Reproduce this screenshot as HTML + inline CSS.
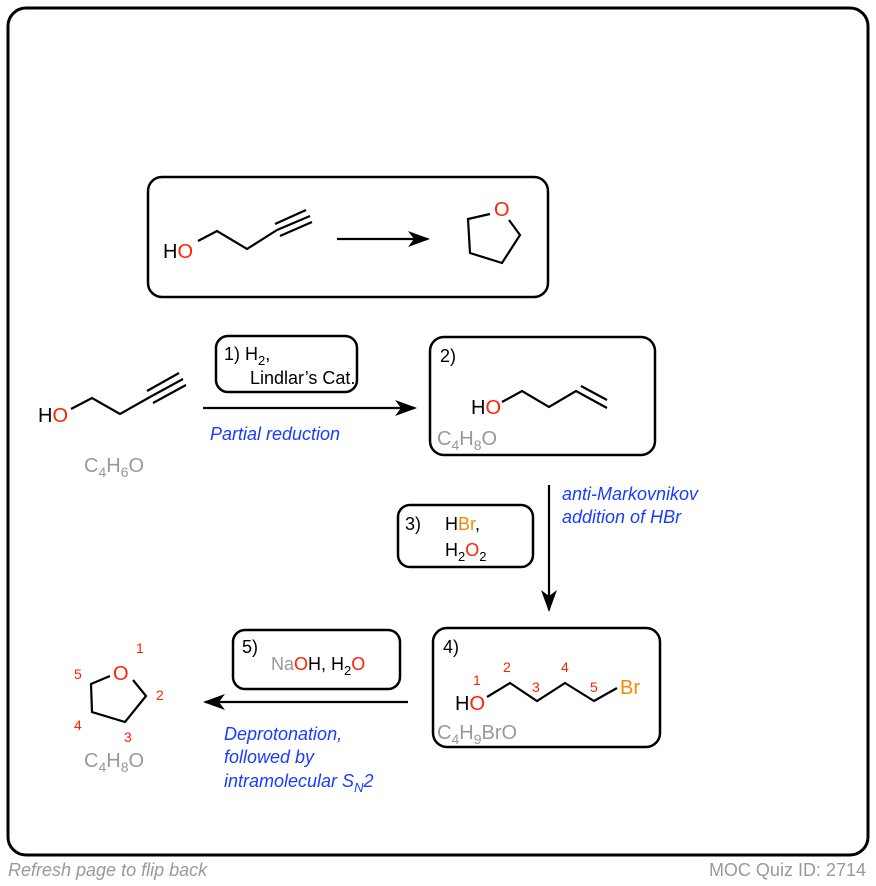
<!DOCTYPE html>
<html><head><meta charset="utf-8"><style>
html,body{margin:0;padding:0;background:#fff;}
svg{display:block;font-family:"Liberation Sans",Arial,sans-serif;}
</style></head><body>
<svg width="876" height="886" viewBox="0 0 876 886" xmlns="http://www.w3.org/2000/svg">
<defs>
<marker id="ah" markerWidth="10" markerHeight="10" refX="9" refY="5" orient="auto" markerUnits="userSpaceOnUse" viewBox="0 0 10 10">
<path d="M0,0 L10,5 L0,10 L3,5 Z" fill="#000"/></marker>
<marker id="ah2" markerWidth="22" markerHeight="16" refX="20" refY="8" orient="auto" markerUnits="userSpaceOnUse" viewBox="0 0 22 16">
<path d="M0,0 L22,8 L0,16 L6,8 Z" fill="#000"/></marker>
</defs>
<rect x="8" y="8" width="860" height="847" rx="18" fill="#fff" stroke="#000" stroke-width="3"/>
<!-- top box -->
<rect x="148" y="177" width="400" height="120" rx="14" fill="none" stroke="#000" stroke-width="2.5"/>
<text x="163" y="258" font-size="20">H<tspan fill="#ff2200">O</tspan></text>
<g stroke="#000" stroke-width="2.2" fill="none">
<polyline points="198,241 217,231 247,249 277,230"/>
<line x1="277" y1="230" x2="310" y2="216"/>
<line x1="275" y1="224" x2="306" y2="210"/>
<line x1="280" y1="236" x2="312" y2="222"/>
<line x1="337" y1="239" x2="428" y2="239" marker-end="url(#ah2)"/>
<polyline points="490,214 468,219 470,253 502,263 520,235 509,220"/>
</g>
<text x="494" y="216" font-size="20" fill="#ff2200">O</text>
<!-- row 2 -->
<text x="38" y="422" font-size="20">H<tspan fill="#ff2200">O</tspan></text>
<g stroke="#000" stroke-width="2.2" fill="none">
<polyline points="71,409 92,398 120,414 150,397"/>
<line x1="150" y1="397" x2="183" y2="379"/>
<line x1="147" y1="391" x2="179" y2="373"/>
<line x1="153" y1="403" x2="186" y2="385"/>
<line x1="203" y1="408" x2="415" y2="408" marker-end="url(#ah2)"/>
</g>
<text x="84" y="472" font-size="20" fill="#999">C<tspan font-size="14" dy="5">4</tspan><tspan dy="-5">H</tspan><tspan font-size="14" dy="5">6</tspan><tspan dy="-5">O</tspan></text>
<rect x="216" y="336" width="141" height="56" rx="12" fill="none" stroke="#000" stroke-width="2.5"/>
<text x="224" y="360" font-size="18">1) H<tspan font-size="13" dy="5">2</tspan><tspan dy="-5">,</tspan></text>
<text x="250" y="384" font-size="18">Lindlar’s Cat.</text>
<text x="210" y="440" font-size="18" font-style="italic" fill="#1a3cff">Partial reduction</text>
<rect x="430" y="337" width="225" height="118" rx="14" fill="none" stroke="#000" stroke-width="2.5"/>
<text x="440" y="362" font-size="18">2)</text>
<text x="471" y="414" font-size="20">H<tspan fill="#ff2200">O</tspan></text>
<g stroke="#000" stroke-width="2.2" fill="none">
<polyline points="502,402 522,391 549,407 576,391 607,408"/>
<line x1="581" y1="386" x2="607" y2="400"/>
</g>
<text x="437" y="445" font-size="20" fill="#999">C<tspan font-size="14" dy="5">4</tspan><tspan dy="-5">H</tspan><tspan font-size="14" dy="5">8</tspan><tspan dy="-5">O</tspan></text>
<!-- vertical arrow -->
<line x1="549" y1="485" x2="549" y2="610" stroke="#000" stroke-width="2.2" marker-end="url(#ah2)"/>
<text x="562" y="500" font-size="18" font-style="italic" fill="#1a3cff">anti-Markovnikov</text>
<text x="562" y="523" font-size="18" font-style="italic" fill="#1a3cff">addition of HBr</text>
<rect x="398" y="505" width="135" height="62" rx="12" fill="none" stroke="#000" stroke-width="2.5"/>
<text x="405" y="530" font-size="18">3)</text>
<text x="445" y="530" font-size="18">H<tspan fill="#f08c00">Br</tspan>,</text>
<text x="445" y="556" font-size="18">H<tspan font-size="13" dy="5">2</tspan><tspan dy="-5" fill="#ff2200">O</tspan><tspan font-size="13" dy="5">2</tspan></text>
<!-- box 4 -->
<rect x="433" y="628" width="227" height="119" rx="14" fill="none" stroke="#000" stroke-width="2.5"/>
<text x="443" y="653" font-size="18">4)</text>
<text x="455" y="710" font-size="20">H<tspan fill="#ff2200">O</tspan></text>
<g stroke="#000" stroke-width="2.2" fill="none">
<polyline points="487,697 510,683 537,701 565,683 594,701 617,688"/>
</g>
<text x="620" y="694" font-size="20" fill="#f08c00">Br</text>
<g font-size="14" fill="#ff2200">
<text x="473" y="685">1</text><text x="503" y="672">2</text><text x="532" y="692">3</text>
<text x="561" y="672">4</text><text x="590" y="692">5</text></g>
<text x="437" y="739" font-size="20" fill="#999">C<tspan font-size="14" dy="5">4</tspan><tspan dy="-5">H</tspan><tspan font-size="14" dy="5">9</tspan><tspan dy="-5">BrO</tspan></text>
<!-- box 5 -->
<rect x="233" y="630" width="167" height="59" rx="12" fill="none" stroke="#000" stroke-width="2.5"/>
<text x="242" y="653" font-size="18">5)</text>
<text x="271" y="670" font-size="18"><tspan fill="#999">Na</tspan><tspan fill="#ff2200">O</tspan>H, H<tspan font-size="13" dy="5">2</tspan><tspan dy="-5" fill="#ff2200">O</tspan></text>
<line x1="408" y1="702" x2="205" y2="702" stroke="#000" stroke-width="2.2" marker-end="url(#ah2)"/>
<text x="224" y="740" font-size="18" font-style="italic" fill="#1a3cff">Deprotonation,</text>
<text x="224" y="763" font-size="18" font-style="italic" fill="#1a3cff">followed by</text>
<text x="224" y="787" font-size="18" font-style="italic" fill="#1a3cff">intramolecular S<tspan font-size="13" dy="5">N</tspan><tspan dy="-5">2</tspan></text>
<!-- product THF -->
<g stroke="#000" stroke-width="2.2" fill="none">
<polyline points="110,676 91,684 92,712 125,722 146,696 133,680"/>
</g>
<text x="113" y="680" font-size="20" fill="#ff2200">O</text>
<g font-size="14" fill="#ff2200">
<text x="136" y="653">1</text><text x="156" y="700">2</text><text x="124" y="742">3</text>
<text x="74" y="730">4</text><text x="74" y="679">5</text></g>
<text x="84" y="767" font-size="20" fill="#999">C<tspan font-size="14" dy="5">4</tspan><tspan dy="-5">H</tspan><tspan font-size="14" dy="5">8</tspan><tspan dy="-5">O</tspan></text>
<!-- footer -->
<text x="8" y="876" font-size="18" font-style="italic" fill="#999">Refresh page to flip back</text>
<text x="866" y="876" font-size="18" fill="#999" text-anchor="end">MOC Quiz ID: 2714</text>
</svg>
</body></html>
